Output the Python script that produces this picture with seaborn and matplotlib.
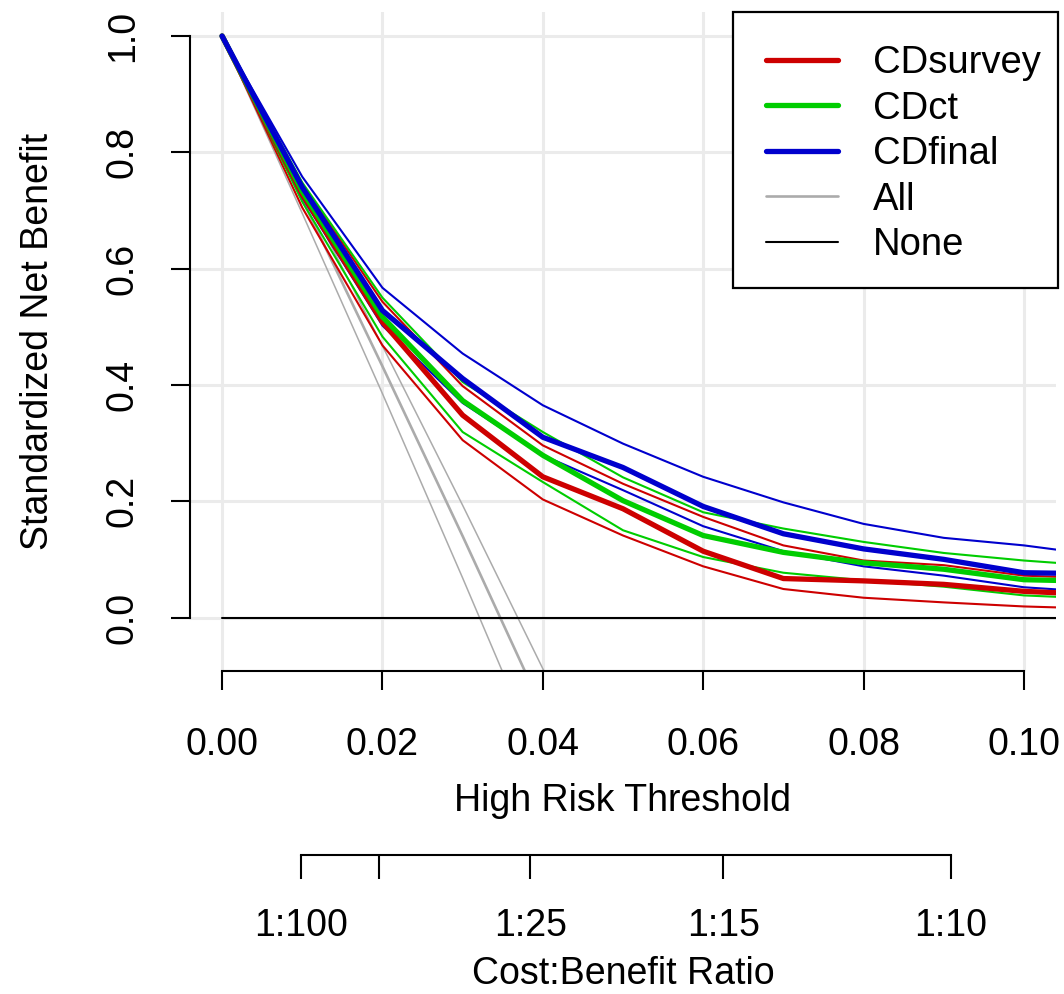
import numpy as np
import pandas as pd
import seaborn as sns
import matplotlib
matplotlib.use("Agg")
import matplotlib.pyplot as plt
from matplotlib.lines import Line2D
from matplotlib.patches import Rectangle

sns.set_style("white")
plt.rcParams['font.family'] = ['Liberation Sans', 'DejaVu Sans']

# ---------------- data ----------------
thresholds = [0.00, 0.01, 0.02, 0.03, 0.04, 0.05, 0.06, 0.07, 0.08, 0.09, 0.10, 0.11]

cdsurvey_est = [1.0, 0.728, 0.508, 0.348, 0.242, 0.187, 0.114, 0.067, 0.063, 0.057, 0.045, 0.039]
cdsurvey_hi  = [1.0, 0.745, 0.543, 0.398, 0.296, 0.230, 0.173, 0.124, 0.098, 0.090, 0.072, 0.067]
cdsurvey_lo  = [1.0, 0.705, 0.468, 0.305, 0.203, 0.141, 0.088, 0.049, 0.034, 0.026, 0.019, 0.015]

cdct_est = [1.0, 0.733, 0.517, 0.373, 0.279, 0.201, 0.141, 0.112, 0.094, 0.083, 0.065, 0.062]
cdct_hi  = [1.0, 0.748, 0.550, 0.405, 0.319, 0.241, 0.181, 0.153, 0.130, 0.111, 0.098, 0.088]
cdct_lo  = [1.0, 0.715, 0.483, 0.319, 0.233, 0.150, 0.104, 0.077, 0.064, 0.053, 0.038, 0.032]

cdfinal_est = [1.0, 0.740, 0.528, 0.411, 0.310, 0.258, 0.191, 0.144, 0.118, 0.100, 0.077, 0.075]
cdfinal_hi  = [1.0, 0.758, 0.567, 0.454, 0.365, 0.299, 0.242, 0.198, 0.161, 0.137, 0.124, 0.106]
cdfinal_lo  = [1.0, 0.722, 0.502, 0.369, 0.279, 0.219, 0.157, 0.114, 0.088, 0.072, 0.052, 0.043]

all_thresholds = [0.00, 0.01, 0.02, 0.03, 0.04, 0.05]
all_est = [1.0, 0.719, 0.432, 0.140, -0.159, -0.464]
all_lo  = [1.0, 0.695, 0.385, 0.068, -0.256, -0.587]
all_hi  = [1.0, 0.736, 0.467, 0.193, -0.088, -0.374]

none_vals = [0.0] * len(thresholds)

x_ticks = [0.00, 0.02, 0.04, 0.06, 0.08, 0.10]
x_tick_labels = ["0.00", "0.02", "0.04", "0.06", "0.08", "0.10"]
y_ticks = [0.0, 0.2, 0.4, 0.6, 0.8, 1.0]
y_tick_labels = ["0.0", "0.2", "0.4", "0.6", "0.8", "1.0"]
cb_ticks = [1/101, 1/51, 1/26, 1/16, 1/11]
cb_labels = ["1:100", "", "1:25", "1:15", "1:10"]

legend_labels = ["CDsurvey", "CDct", "CDfinal", "All", "None"]

RED, GREEN, BLUE = "#CD0000", "#00CD00", "#0000CD"
GRAY = "#ABABAB"

# ---------------- figure ----------------
W, H = 1064, 994
fig = plt.figure(figsize=(W / 100, H / 100), dpi=100)
x0, x1 = 190, 1056
ytop, ybot = 11.6, 671
ax = fig.add_axes([x0 / W, (H - ybot) / H, (x1 - x0) / W, (ybot - ytop) / H])

ax.set_xlim(-0.004, 0.104)
ax.set_ylim(-0.092, 1.042)

fs = 27
for x in x_ticks:
    ax.axvline(x, color="#EBEBEB", lw=2.2, zorder=0)
for y in y_ticks:
    ax.axhline(y, color="#EBEBEB", lw=2.2, zorder=0)

def draw(xs, ys, color, lw, z=3):
    sns.lineplot(x=xs, y=ys, ax=ax, color=color, linewidth=lw, zorder=z,
                 estimator=None, sort=False, legend=False)

# All (gray)
draw(all_thresholds, all_lo, GRAY, 1.1, 2)
draw(all_thresholds, all_hi, GRAY, 1.1, 2)
draw(all_thresholds, all_est, GRAY, 1.9, 2)
# None
draw(thresholds, none_vals, "black", 1.5, 2)

thin, thick = 1.5, 3.8
for lo, hi, est, col in [(cdsurvey_lo, cdsurvey_hi, cdsurvey_est, RED),
                         (cdct_lo, cdct_hi, cdct_est, GREEN),
                         (cdfinal_lo, cdfinal_hi, cdfinal_est, BLUE)]:
    draw(thresholds, lo, col, thin)
    draw(thresholds, hi, col, thin)
for est, col in [(cdsurvey_est, RED), (cdct_est, GREEN), (cdfinal_est, BLUE)]:
    draw(thresholds, est, col, thick, 4)

# axes styling
for s in ["top", "right"]:
    ax.spines[s].set_visible(False)
ax.spines["left"].set_bounds(0, 1)
ax.spines["bottom"].set_bounds(0, 0.10)
for s in ["left", "bottom"]:
    ax.spines[s].set_linewidth(1.5)
    ax.spines[s].set_color("black")

ax.set_xticks(x_ticks)
ax.set_xticklabels(x_tick_labels)
ax.set_yticks(y_ticks)
ax.set_yticklabels(y_tick_labels, rotation=90, va="center")
ax.tick_params(axis="both", direction="out", length=13.5, width=1.5,
               labelsize=fs, colors="black", bottom=True, left=True)
ax.tick_params(axis="x", pad=27)
ax.tick_params(axis="y", pad=22)
ax.set_xlabel("High Risk Threshold", fontsize=fs, labelpad=14, color="black")
ax.set_ylabel("Standardized Net Benefit", fontsize=fs, labelpad=35, color="black")

# legend (frame drawn as a separate box, like R's legend)
frame = Rectangle((733 / W, 1 - 288 / H), 325 / W, 276 / H, transform=fig.transFigure,
                  facecolor="white", edgecolor="black", linewidth=1.6, zorder=5)
fig.add_artist(frame)
handles = [Line2D([], [], color=RED, lw=3.8),
           Line2D([], [], color=GREEN, lw=3.8),
           Line2D([], [], color=BLUE, lw=3.8),
           Line2D([], [], color=GRAY, lw=1.9),
           Line2D([], [], color="black", lw=1.5)]
leg = fig.legend(handles, legend_labels, loc="upper left",
                 bbox_to_anchor=(766 / W, 1 - 45 / H), bbox_transform=fig.transFigure,
                 prop={"size": 27.5}, frameon=False, borderaxespad=0,
                 handlelength=1.88, handletextpad=0.92, labelspacing=0.25,
                 borderpad=0)
for t in leg.get_texts():
    t.set_color("black")
leg.set_zorder(6)

# cost:benefit axis
cb_line = 855
ax2 = fig.add_axes([x0 / W, (H - cb_line) / H, (x1 - x0) / W, 0.0001])
ax2.set_xlim(-0.004, 0.104)
ax2.patch.set_visible(False)
for s in ["top", "right", "left"]:
    ax2.spines[s].set_visible(False)
ax2.spines["bottom"].set_bounds(cb_ticks[0], cb_ticks[-1])
ax2.spines["bottom"].set_linewidth(1.5)
ax2.spines["bottom"].set_color("black")
ax2.set_yticks([])
ax2.set_xticks(cb_ticks)
ax2.set_xticklabels(cb_labels)
ax2.tick_params(axis="x", direction="out", length=17, width=1.5,
                labelsize=fs, pad=21.5, colors="black", bottom=True)
ax2.set_xlabel("Cost:Benefit Ratio", fontsize=fs, labelpad=8, color="black")

fig.savefig("out.png", dpi=100)
